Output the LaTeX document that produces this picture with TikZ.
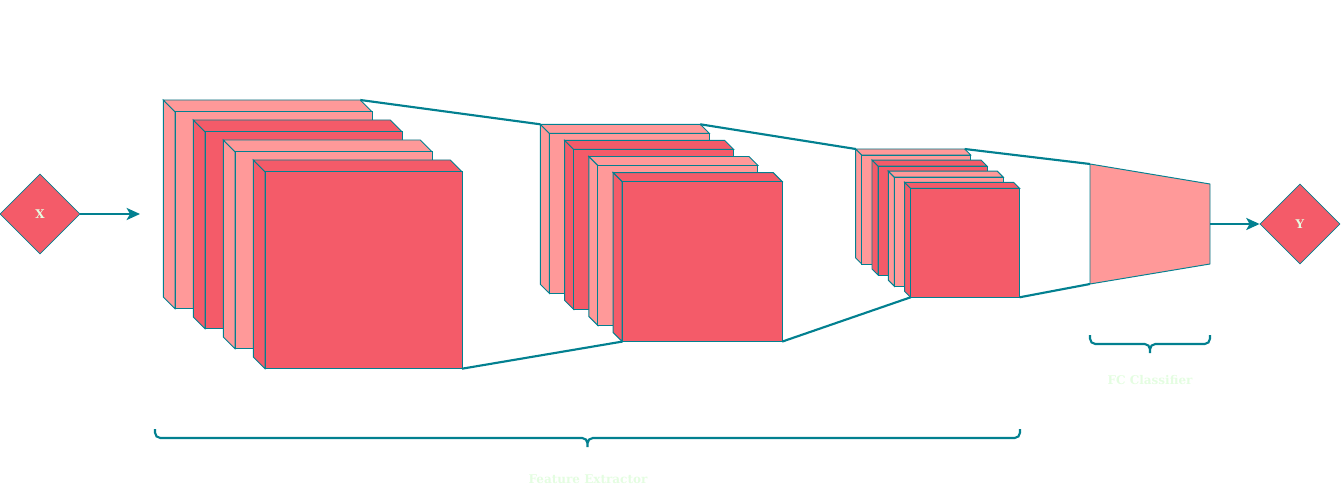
\documentclass[tikz,border=0pt]{standalone}
\usepackage{fontspec}
\setmainfont{DejaVu Serif}
\usetikzlibrary{shapes.geometric, arrows.meta}

\definecolor{mapdark}{HTML}{F45B69}
\definecolor{maplight}{HTML}{FF9999}
\definecolor{edgeteal}{HTML}{028090}
\definecolor{labelgreen}{HTML}{E4FDE1}

% one feature-map slab: name, front top-left x, y, size, depth, fill
\newcommand{\fmapslab}[6]{%
  \coordinate (#1-ftl) at (#2,#3);
  \coordinate (#1-ftr) at (#2+#4,#3);
  \coordinate (#1-fbl) at (#2,#3+#4);
  \coordinate (#1-fbr) at (#2+#4,#3+#4);
  \coordinate (#1-btl) at (#2-#5,#3-#5);
  \coordinate (#1-btr) at (#2+#4-#5,#3-#5);
  \coordinate (#1-bbl) at (#2-#5,#3+#4-#5);
  \draw[slabedge, fill=#6] (#1-ftl) -- (#1-btl) -- (#1-bbl) -- (#1-fbl) -- cycle;
  \draw[slabedge, fill=#6] (#1-ftl) -- (#1-btl) -- (#1-btr) -- (#1-ftr) -- cycle;
  \draw[slabedge, fill=#6] (#1-ftl) rectangle (#1-fbr);
}

\begin{document}
\begin{tikzpicture}[
    x=0.75pt, y=-0.75pt,
    % styles
    slabedge/.style={draw=edgeteal, line width=0.7pt, line join=miter},
    io/.style={diamond, draw=edgeteal, fill=mapdark, line width=0.6pt, minimum width=60pt, minimum height=60pt, inner sep=0pt, text=labelgreen, font=\bfseries\fontsize{9}{10}\selectfont},
    link/.style={edgeteal, line width=1.6pt},
    flow/.style={-{Stealth[length=10pt, width=9pt, inset=2.5pt]}, edgeteal, line width=2pt},
    bracket/.style={edgeteal, line width=1.6pt, rounded corners=4pt},
    caption/.style={text=labelgreen, font=\bfseries\fontsize{9}{10}\selectfont},
]
\useasboundingbox (0,0) rectangle (1342,495);

% ========== input / output ==========
\node[io] (x) at (40,214) {X};
\node[io] (y) at (1300,224) {Y};
\coordinate (xin) at (140,214);
\draw[flow] (x.east) -- (xin);

% ========== FC classifier ==========
\coordinate (fc-tl) at (1090,164);
\coordinate (fc-tr) at (1210,184);
\coordinate (fc-br) at (1210,264);
\coordinate (fc-bl) at (1090,284);
\coordinate (fc-out) at (1210,224);

% ========== stack 1 ==========
\fmapslab{s1a}{175}{111.7}{197}{11.7}{maplight}
\fmapslab{s1b}{205}{131.7}{197}{11.7}{mapdark}
\fmapslab{s1c}{235}{151.7}{197}{11.7}{maplight}
\fmapslab{s1d}{265}{171.7}{197}{11.7}{mapdark}

% ========== stack 2 ==========
\fmapslab{s2a}{549.3}{133.3}{160}{9}{maplight}
\fmapslab{s2b}{573.6}{149.4}{160}{9}{mapdark}
\fmapslab{s2c}{597.9}{165.5}{160}{9}{maplight}
\fmapslab{s2d}{622.2}{181.6}{160}{9}{mapdark}

% ========== stack 3 ==========
\fmapslab{s3a}{861.7}{155}{109}{6}{maplight}
\fmapslab{s3b}{878}{166.1}{109}{6}{mapdark}
\fmapslab{s3c}{894.3}{177.2}{109}{6}{maplight}
\fmapslab{s3d}{910.6}{188.3}{109}{6}{mapdark}

% projection lines
\draw[link] (s1a-btr) -- (s2a-btl);
\draw[link] (s1d-fbr) -- (s2d-fbl);
\draw[link] (s2a-btr) -- (s3a-btl);
\draw[link] (s2d-fbr) -- (s3d-fbl);
\draw[link] (s3a-btr) -- (fc-tl);
\draw[link] (s3d-fbr) -- (fc-bl);

\draw[slabedge, fill=maplight] (fc-tl) -- (fc-tr) -- (fc-br) -- (fc-bl) -- cycle;
\draw[flow] (fc-out) -- (y.west);

% ========== braces and captions ==========
\coordinate (fe-l) at (155,429);
\coordinate (fe-r) at (1020,429);
\coordinate (fe-m) at (587.5,438);
\coordinate (fe-tip) at (587.5,447);
\coordinate (fcb-l) at (1090,335);
\coordinate (fcb-r) at (1210,335);
\coordinate (fcb-m) at (1150,344);
\coordinate (fcb-tip) at (1150,353);
\draw[bracket] (fe-l) |- (fe-m) -- (fe-tip) (fe-r) |- (fe-m) -- (fe-tip);
\draw[bracket] (fcb-l) |- (fcb-m) -- (fcb-tip) (fcb-r) |- (fcb-m) -- (fcb-tip);
\node[caption] (fe-label) at (588,479) {Feature Extractor};
\node[caption] (fc-label) at (1150,380) {FC Classifier};

\end{tikzpicture}
\end{document}
